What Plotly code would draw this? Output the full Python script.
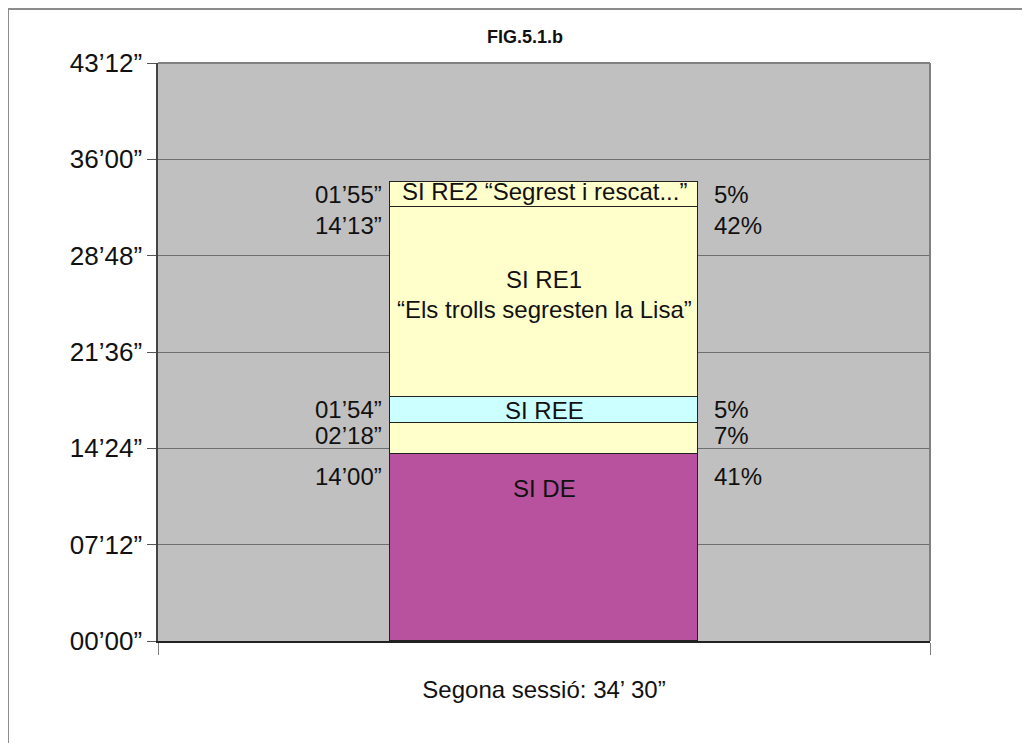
import plotly.graph_objects as go

# ---- data (seconds) ----
session = "Segona sessió: 34’ 30”"
segments = ["SI DE", "", "SI REE", "SI RE1", "SI RE2"]
durations = [840, 138, 114, 853, 115]
percent_labels = ["41%", "7%", "5%", "42%", "5%"]
inner_labels = ["SI DE", "", "SI REE", "SI RE1", "SI RE2 “Segrest i rescat...”"]
inner_sublabels = ["", "", "", "“Els trolls segresten la Lisa”", ""]
colors = ["#B8529E", "#FFFFCC", "#CCFFFF", "#FFFFCC", "#FFFFCC"]
tick_values = [0, 432, 864, 1296, 1728, 2160, 2592]


def fmt(sec):
    return f"{sec // 60:02d}’{sec % 60:02d}”"


FONT = "Liberation Sans, Arial, sans-serif"
TXT = "#111111"

fig = go.Figure()
for name, d, c in zip(segments, durations, colors):
    fig.add_trace(go.Bar(
        x=[session], y=[d], name=name or "-",
        marker=dict(color=c, line=dict(color="#222222", width=1.3)),
        width=0.4, showlegend=False, hoverinfo="skip",
    ))

annotations = []
tops = []
acc = 0
for d in durations:
    acc += d
    tops.append(acc)

side_shift = [-10, 0, 0, -6, 0]
inner_cfg = [("top", -19), None, ("middle", 0), ("middle", 23), ("middle", 3)]
for i, d in enumerate(durations):
    top = tops[i]
    bottom = top - d
    annotations.append(dict(x=-0.2, xref="x", y=top, yref="y", xanchor="right", yanchor="top",
                            xshift=-6, yshift=side_shift[i] + 3, text=fmt(d), showarrow=False,
                            font=dict(size=24, color=TXT, family=FONT)))
    annotations.append(dict(x=0.2, xref="x", y=top, yref="y", xanchor="left", yanchor="top",
                            xshift=14, yshift=side_shift[i] + 3, text=percent_labels[i], showarrow=False,
                            font=dict(size=24, color=TXT, family=FONT)))
    if inner_labels[i]:
        anc, sh = inner_cfg[i]
        yy = top if anc == "top" else (top + bottom) / 2
        annotations.append(dict(x=0, xref="x", y=yy, yref="y", xanchor="center", yanchor=anc,
                                yshift=sh, text=inner_labels[i], showarrow=False,
                                font=dict(size=24, color=TXT, family=FONT)))
    if inner_sublabels[i]:
        annotations.append(dict(x=0, xref="x", y=(top + bottom) / 2, yref="y", xanchor="center",
                                yanchor="middle", yshift=-7, text=inner_sublabels[i], showarrow=False,
                                font=dict(size=24, color=TXT, family=FONT)))

annotations.append(dict(x=0.4754, xref="paper", y=1.045, yref="paper", text="<b>FIG.5.1.b</b>",
                        showarrow=False, font=dict(size=18, color=TXT, family=FONT),
                        xanchor="center", yanchor="middle"))

fig.update_layout(
    width=1022, height=735,
    margin=dict(l=150, r=100, t=55, b=102),
    paper_bgcolor="white", plot_bgcolor="#C0C0C0",
    barmode="stack", bargap=0,
    annotations=annotations,
    shapes=[dict(type="rect", xref="paper", yref="paper", x0=-0.1943, x1=1.3, y0=-0.3, y1=1.0934,
                 line=dict(color="#8C8C8C", width=2), fillcolor="rgba(0,0,0,0)", layer="below")],
    xaxis=dict(showgrid=False, tickson="boundaries", ticks="outside", ticklen=12, tickcolor="#808080",
               showline=True, linecolor="#222222", linewidth=1.5, mirror=False,
               tickfont=dict(size=24, color=TXT, family=FONT), ticklabelstandoff=26),
    yaxis=dict(range=[0, 2592], tickvals=tick_values, ticktext=[fmt(v) for v in tick_values],
               showgrid=True, gridcolor="#6E6E6E", gridwidth=1, zeroline=False,
               ticks="outside", ticklen=9, tickcolor="#555555",
               showline=True, linecolor="#444444", linewidth=1.5,
               tickfont=dict(size=26, color=TXT, family=FONT)),
)
fig.add_shape(type="line", xref="paper", yref="paper", x0=0, x1=1, y0=1, y1=1, line=dict(color="#808080", width=2))
fig.add_shape(type="line", xref="paper", yref="paper", x0=1, x1=1, y0=0, y1=1, line=dict(color="#808080", width=2))

fig.write_html("out.html")
